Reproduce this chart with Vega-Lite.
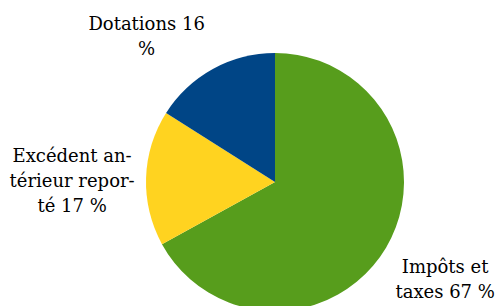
{
  "$schema": "https://vega.github.io/schema/vega-lite/v6.json",
  "width": 444,
  "height": 248,
  "autosize": "none",
  "padding": {"left": 53, "top": 58, "right": 0, "bottom": 0},
  "background": "white",
  "config": {"view": {"stroke": null}},
  "data": {
    "values": [
      {"category": "Impôts et taxes", "value": 67, "label": "Impôts et\ntaxes 67 %"},
      {"category": "Excédent antérieur reporté", "value": 17, "label": "Excédent an-\ntérieur repor-\nté 17 %"},
      {"category": "Dotations", "value": 16, "label": "Dotations 16\n%"}
    ]
  },
  "encoding": {
    "theta": {"field": "value", "type": "quantitative", "stack": true},
    "order": {"field": "category", "type": "nominal", "sort": "descending"}
  },
  "layer": [
    {
      "mark": {"type": "arc", "outerRadius": 129},
      "encoding": {
        "color": {
          "field": "category",
          "type": "nominal",
          "scale": {
            "domain": ["Impôts et taxes", "Excédent antérieur reporté", "Dotations"],
            "range": ["#579d1c", "#ffd320", "#004586"]
          },
          "legend": null
        }
      }
    },
    {
      "mark": {
        "type": "text",
        "radius": 200,
        "font": "DejaVu Serif",
        "fontSize": 18,
        "lineHeight": 25,
        "lineBreak": "\n",
        "align": "center",
        "baseline": "middle",
        "dx": {"expr": "datum.value > 50 ? -2 : (datum.value > 16.5 ? -3 : -32)"},
        "dy": {"expr": "datum.value > 50 ? -16 : (datum.value > 16.5 ? -19 : 18)"}
      },
      "encoding": {
        "text": {"field": "label"},
        "detail": {"field": "category"},
        "color": {"value": "#000000"}
      }
    }
  ]
}
